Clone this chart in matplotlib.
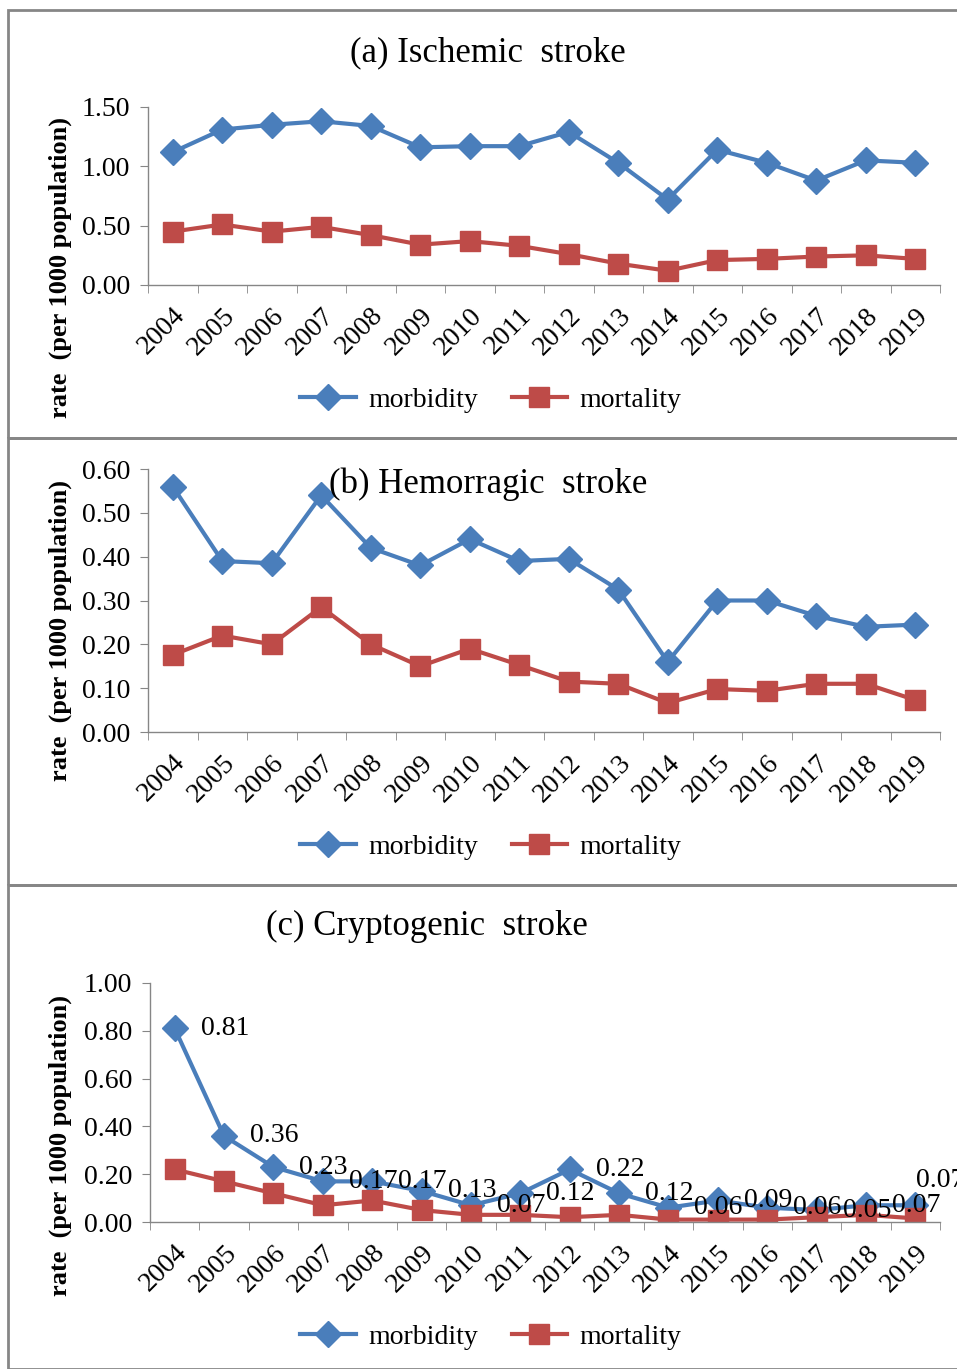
import numpy as np
import matplotlib
matplotlib.use("Agg")
import matplotlib.pyplot as plt
from matplotlib.lines import Line2D

plt.rcParams['font.family'] = ['Liberation Serif', 'DejaVu Serif']

years = [str(y) for y in range(2004, 2020)]

isch_morb = [1.12, 1.31, 1.35, 1.38, 1.34, 1.16, 1.17, 1.17, 1.29, 1.03, 0.72, 1.14, 1.03, 0.88, 1.05, 1.03]
isch_mort = [0.45, 0.51, 0.45, 0.49, 0.42, 0.34, 0.37, 0.33, 0.26, 0.18, 0.12, 0.21, 0.22, 0.24, 0.25, 0.22]

hem_morb = [0.56, 0.39, 0.385, 0.54, 0.42, 0.38, 0.44, 0.39, 0.395, 0.325, 0.16, 0.30, 0.30, 0.265, 0.24, 0.245]
hem_mort = [0.176, 0.22, 0.20, 0.285, 0.20, 0.15, 0.19, 0.153, 0.115, 0.11, 0.066, 0.098, 0.094, 0.11, 0.11, 0.073]

cry_morb = [0.81, 0.36, 0.23, 0.17, 0.17, 0.13, 0.07, 0.12, 0.22, 0.12, 0.06, 0.09, 0.06, 0.05, 0.07, 0.07]
cry_mort = [0.22, 0.17, 0.12, 0.07, 0.09, 0.05, 0.03, 0.03, 0.02, 0.03, 0.01, 0.01, 0.01, 0.02, 0.03, 0.015]
cry_labels = ['0.81', '0.36', '0.23', '0.17', '0.17', '0.13', '0.07', '0.12',
              '0.22', '0.12', '0.06', '0.09', '0.06', '0.05', '0.07', '0.07']

BLUE = '#4a7ebb'
RED = '#be4b48'
GRAY = '#868686'

W, H = 957, 1369
fig = plt.figure(figsize=(W / 100, H / 100), dpi=100)

# panel borders
for y0, y1 in [(10, 438), (438, 885), (885, 1369)]:
    fig.add_artist(plt.Rectangle((8 / W, 1 - y1 / H), 1.2, (y1 - y0) / H,
                                 transform=fig.transFigure, fill=False,
                                 edgecolor=GRAY, linewidth=2))


def panel(left, top, bottom, ymax, ystep, morb, mort, title, title_y, leg_y, ylab_y):
    ax = fig.add_axes([left / W, 1 - bottom / H, (940 - left) / W, (bottom - top) / H])
    x = np.arange(len(years))
    ax.plot(x, morb, color=BLUE, lw=3, marker='D', ms=13, label='morbidity')
    ax.plot(x, mort, color=RED, lw=3, marker='s', ms=14, label='mortality')
    ax.set_xlim(-0.5, len(years) - 0.5)
    ax.set_ylim(0, ymax)
    ax.set_yticks(np.arange(0, ymax + 1e-9, ystep))
    ax.set_yticklabels(['%.2f' % v for v in np.arange(0, ymax + 1e-9, ystep)], fontsize=20)
    ax.set_xticks(x)
    ax.set_xticklabels(years, rotation=45, ha='right', va='top', fontsize=20,
                       rotation_mode='anchor')
    ax.set_xticks(np.arange(-0.5, len(years)), minor=True)
    ax.tick_params(axis='x', which='major', length=0, pad=13)
    ax.tick_params(axis='x', which='minor', length=6, color=GRAY, direction='out')
    ax.tick_params(axis='y', length=6, color=GRAY, pad=7)
    for s in ['top', 'right']:
        ax.spines[s].set_visible(False)
    for s in ['left', 'bottom']:
        ax.spines[s].set_color(GRAY)
        ax.spines[s].set_linewidth(1)
    fig.text(title[1] / W, 1 - title_y / H, title[0], fontsize=25, ha='center', va='center')
    fig.text(60 / W, 1 - ylab_y / H, 'rate  (per 1000 population)', rotation=90,
             fontsize=19, fontweight='bold', ha='center', va='center')
    handles = [Line2D([], [], color=BLUE, lw=3, marker='D', ms=13),
               Line2D([], [], color=RED, lw=3, marker='s', ms=14)]
    fig.legend(handles, ['morbidity', 'mortality'], loc='center',
               bbox_to_anchor=(491 / W, 1 - leg_y / H), ncol=2, frameon=False,
               fontsize=20, handlelength=2.0, columnspacing=1.2, handletextpad=0.45)
    return ax


panel(148, 107, 285, 1.5, 0.5, isch_morb, isch_mort, ('(a) Ischemic  stroke', 488), 53, 400, 268)
panel(148, 469, 732, 0.6, 0.1, hem_morb, hem_mort, ('(b) Hemorragic  stroke', 488), 484, 847, 631)
ax = panel(150, 983, 1222, 1.0, 0.2, cry_morb, cry_mort, ('(c) Cryptogenic  stroke', 427), 926, 1337, 1145)

for i, (v, lab) in enumerate(zip(cry_morb, cry_labels)):
    if i == len(cry_labels) - 1:
        # last label sits above, running off the right edge as in the original
        ax.annotate(lab, (i, v), xytext=(1, 25), textcoords='offset pixels',
                    fontsize=20, ha='left', va='center', annotation_clip=False)
    else:
        ax.annotate(lab, (i, v), xytext=(26, 0), textcoords='offset pixels',
                    fontsize=20, ha='left', va='center')

fig.savefig('out.png', dpi=100)
